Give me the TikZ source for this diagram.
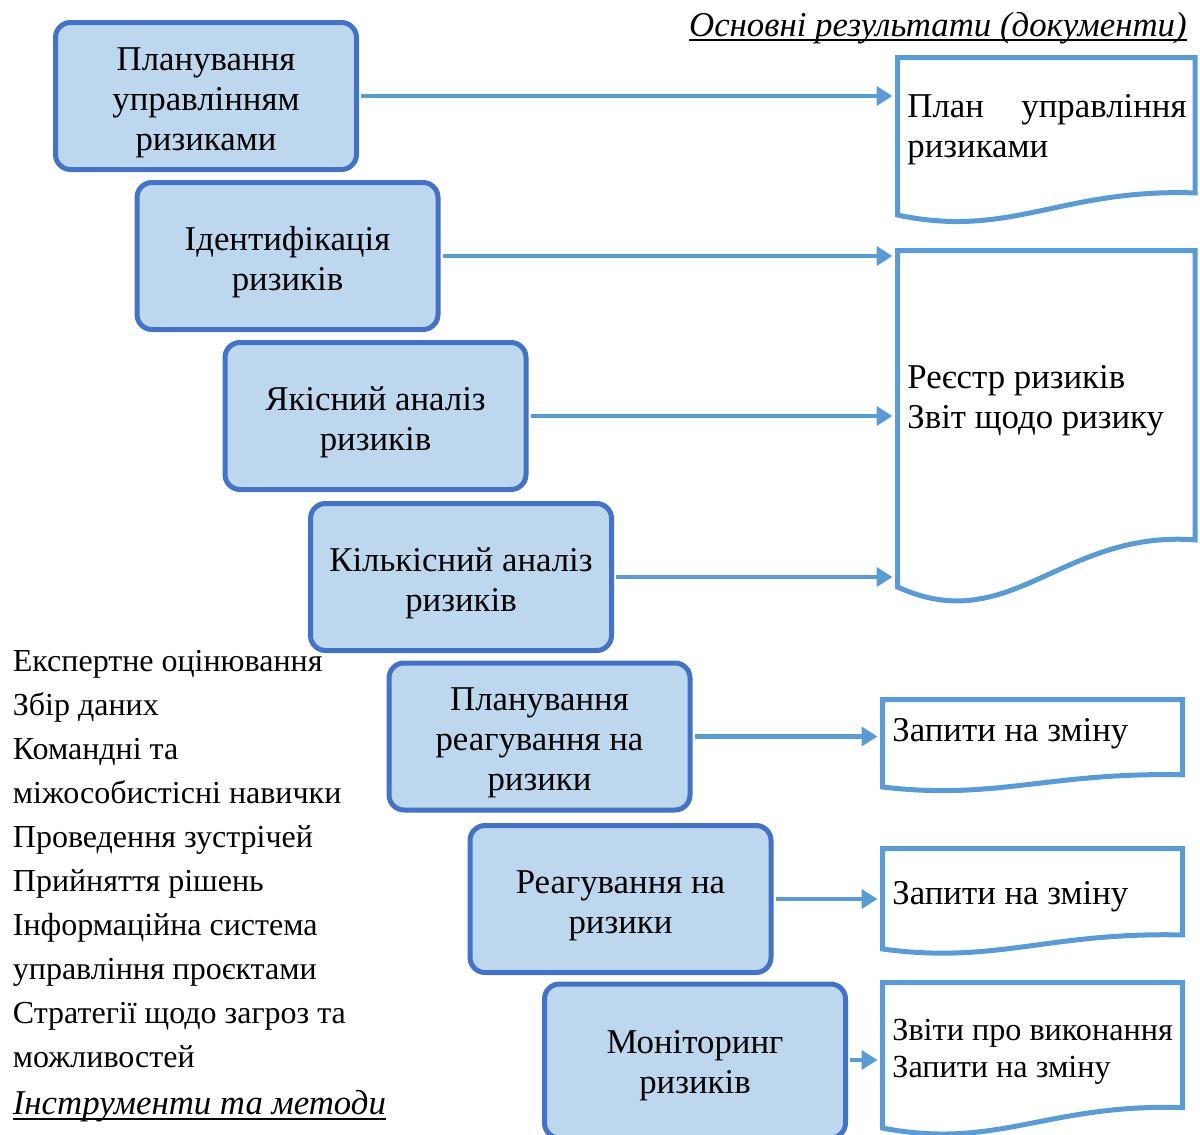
\documentclass[tikz,border=0pt]{standalone}
\usepackage{fontspec}
\setmainfont{Liberation Serif}
\usetikzlibrary{arrows.meta,calc}

\definecolor{stagefill}{HTML}{BDD7EE}
\definecolor{stageline}{HTML}{4472C4}
\definecolor{outline}{HTML}{5B9BD5}

\tikzset{
  stage/.style={draw=stageline, fill=stagefill, line width=2.5pt,
    rounded corners=7.5pt, minimum width=150.5pt, minimum height=73.5pt,
    inner sep=0pt},
  stagetext/.style={align=center, inner sep=0pt, font=\fontsize{17.4}{20}\selectfont},
  docshape/.style={draw=outline, line width=2.5pt, line join=miter},
  conn/.style={draw=outline, line width=2.3pt,
    -{Triangle[length=8pt,width=9.5pt]}, shorten >=2.5pt, shorten <=1.2pt},
  doctext/.style={inner sep=0pt, anchor=base west, font=\fontsize{17.4}{20}\selectfont},
  doctextsmall/.style={doctext, font=\fontsize{16.1}{18}\selectfont},
  tooltext/.style={inner sep=0pt, anchor=base west, font=\fontsize{16}{22}\selectfont},
  headtext/.style={inner sep=0pt, font=\fontsize{17.4}{20}\selectfont\itshape},
  rule/.style={draw=black, line width=1pt},
}

% document symbol with a wavy lower edge:
% #1 = top-left corner, #2 = (right edge x, lower-left corner y)
\newcommand\docoutline[2]{%
  \draw[docshape] let \p1=(#1), \p2=(#2) in
    (\x1,\y1) -- (\x2,\y1) -- (\x2,{\y2+0.14*(\y1-\y2)})
    .. controls ({\x1+0.55*(\x2-\x1)},{\y2+0.17*(\y1-\y2)})
            and ({\x1+0.38*(\x2-\x1)},{\y2-0.153*(\y1-\y2)}) .. (\x1,\y2) -- cycle;}

\begin{document}
\begin{tikzpicture}[x=0.5pt,y=-0.5pt]
  \useasboundingbox (0,0) rectangle (1200,1135);
  \clip (0,0) rectangle (1200,1135);

  % process stages
  \node[stage] (b1) at (206,96)      {};
  \node[stage] (b2) at (287.5,256)   {};
  \node[stage] (b3) at (375.5,416)   {};
  \node[stage] (b4) at (461,577)     {};
  \node[stage] (b5) at (539.5,736.5) {};
  \node[stage] (b6) at (620.5,899)   {};
  \node[stage, minimum height=77pt] (b7) at (695,1061) {};

  \node[stagetext] (b1t) at ($(b1.center)+(0,6.5)$) {Планування\\управлінням\\ризиками};
  \node[stagetext] (b2t) at ($(b2.center)+(0,6.5)$) {Ідентифікація\\ризиків};
  \node[stagetext] (b3t) at ($(b3.center)+(0,6.5)$) {Якісний аналіз\\ризиків};
  \node[stagetext] (b4t) at ($(b4.center)+(0,6.5)$) {Кількісний аналіз\\ризиків};
  \node[stagetext] (b5t) at ($(b5.center)+(0,6.5)$) {Планування\\реагування на\\ризики};
  \node[stagetext] (b6t) at ($(b6.center)+(0,6.5)$) {Реагування на\\ризики};
  \node[stagetext] (b7t) at ($(b7.center)+(0,4.5)$) {Моніторинг\\ризиків};

  % output documents
  \coordinate (d1nw) at (897.5,57.5);  \coordinate (d1b) at (1195,215);
  \coordinate (d2nw) at (897.5,250.5); \coordinate (d2b) at (1195,587);
  \coordinate (d3nw) at (882.5,699.5); \coordinate (d3b) at (1182.5,787);
  \coordinate (d4nw) at (882.5,848.5); \coordinate (d4b) at (1182.5,949);
  \coordinate (d5nw) at (882.5,982.5); \coordinate (d5b) at (1182.5,1128);
  \docoutline{d1nw}{d1b}
  \docoutline{d2nw}{d2b}
  \docoutline{d3nw}{d3b}
  \docoutline{d4nw}{d4b}
  \docoutline{d5nw}{d5b}

  % connectors
  \draw[conn] (b1.east) -- (b1.east -| d1nw);
  \draw[conn] (b2.east) -- (b2.east -| d2nw);
  \draw[conn] (b3.east) -- (b3.east -| d2nw);
  \draw[conn] (b4.east) -- (b4.east -| d2nw);
  \draw[conn] (b5.east) -- (b5.east -| d3nw);
  \draw[conn] (b6.east) -- (b6.east -| d4nw);
  \draw[conn] ([yshift=0.5pt]b7.east) -- ([yshift=0.5pt]b7.east -| d5nw);

  % document contents
  \node[doctext] (t1a) at (907,117) {План};
  \node[doctext, anchor=base east] (t1b) at (1187,117) {управління};
  \node[doctext] (t1c) at (907,157) {ризиками};
  \node[doctext] (t2a) at (907,388) {Реєстр ризиків};
  \node[doctext] (t2b) at (907,428) {Звіт щодо ризику};
  \node[doctext] (t3)  at (892,741) {Запити на зміну};
  \node[doctext] (t4)  at (892,904) {Запити на зміну};
  \node[doctextsmall] (t5a) at (892,1040) {Звіти про виконання};
  \node[doctextsmall] (t5b) at (892,1077) {Запити на зміну};

  % heading of the outputs column
  \node[headtext, anchor=base east] (outhead) at (1187,36) {Основні результати (документи)};
  \draw[rule] ([yshift=-2.2pt]outhead.base west) -- ([yshift=-2.2pt]outhead.base east);

  % tools and techniques
  \node[tooltext] (k1)  at (12.5,671)  {Експертне оцінювання};
  \node[tooltext] (k2)  at (12.5,715)  {Збір даних};
  \node[tooltext] (k3)  at (12.5,759)  {Командні та};
  \node[tooltext] (k4)  at (12.5,803)  {міжособистісні навички};
  \node[tooltext] (k5)  at (12.5,847)  {Проведення зустрічей};
  \node[tooltext] (k6)  at (12.5,891)  {Прийняття рішень};
  \node[tooltext] (k7)  at (12.5,935)  {Інформаційна система};
  \node[tooltext] (k8)  at (12.5,979)  {управління проєктами};
  \node[tooltext] (k9)  at (12.5,1023) {Стратегії щодо загроз та};
  \node[tooltext] (k10) at (12.5,1067) {можливостей};
  \node[headtext, anchor=base west] (toolhead) at (12.5,1114) {Інструменти та методи};
  \draw[rule] ([yshift=-2.5pt]toolhead.base west) -- ([yshift=-2.5pt]toolhead.base east);
\end{tikzpicture}
\end{document}
